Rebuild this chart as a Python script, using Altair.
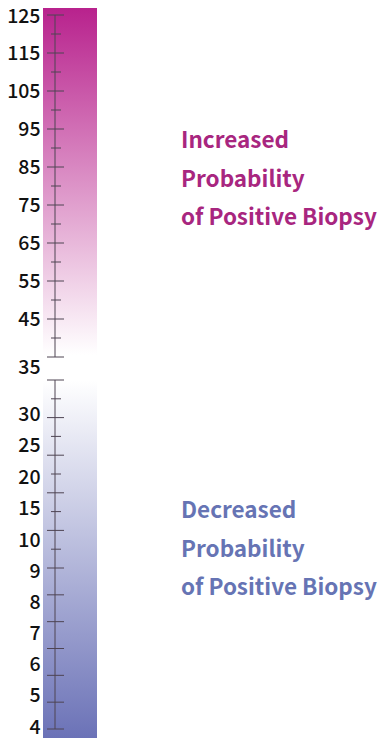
import altair as alt
import pandas as pd

# ---- data ----
label_values = [125, 115, 105, 95, 85, 75, 65, 55, 45, 35, 30, 25, 20, 15, 10, 9, 8, 7, 6, 5, 4]
top_major = [125, 115, 105, 95, 85, 75, 65, 55, 45, 35]
top_minor = [120, 110, 100, 90, 80, 70, 60, 50, 40]
bottom_major = [35, 30, 25, 20, 15, 10, 9, 8, 7, 6, 5, 4]
bottom_minor = [32.5, 27.5, 22.5, 17.5, 12.5]
top_range = [125, 35]
bottom_range = [35, 4]
bar_extent = [127.4, 3.65]
texts_up = ["Increased", "Probability", "of Positive Biopsy"]
texts_down = ["Decreased", "Probability", "of Positive Biopsy"]

FONT = "Noto Sans CJK JP"
TICK = "#4e4452"

main_y = alt.Scale(domain=[127.4, 115, 45, 35, 30, 10, 3.65],
                   range=[0, 45, 311, 359, 406, 532, 730])
top_y = alt.Scale(domain=[125, 35], range=[7, 349])
bot_y = alt.Scale(domain=[35, 10, 4], range=[372, 560, 721])

grad = alt.LinearGradient(
    gradient="linear", x1=0, x2=0, y1=0, y2=1,
    stops=[
        alt.GradientStop(color="#b8228d", offset=0),
        alt.GradientStop(color="#ffffff", offset=0.475),
        alt.GradientStop(color="#ffffff", offset=0.51),
        alt.GradientStop(color="#6b72b7", offset=1),
    ],
)

bar_df = pd.DataFrame({"top": [bar_extent[0]], "bottom": [bar_extent[1]]})

bar = alt.Chart(bar_df).mark_rect(color=grad).encode(
    x=alt.value(1), x2=alt.value(55),
    y=alt.Y("top:Q", scale=main_y,
            axis=alt.Axis(values=label_values, format="d", domain=False, ticks=False,
                          grid=False, labelPadding=2, labelFont=FONT, labelFontSize=19.5,
                          labelColor="#111111", labelFontWeight=500, title=None,
                          labelOverlap=False, labelFlush=False)),
    y2="bottom:Q",
)

def tick_layer(vals, scale, x1, x2):
    return alt.Chart(pd.DataFrame({"v": vals})).mark_rule(color=TICK, strokeWidth=1).encode(
        x=alt.value(x1), x2=alt.value(x2),
        y=alt.Y("v:Q", scale=scale, axis=None),
    )

def line_layer(rng, scale):
    return alt.Chart(pd.DataFrame({"a": [rng[0]], "b": [rng[1]]})).mark_rule(
        color=TICK, strokeWidth=1).encode(
        x=alt.value(13),
        y=alt.Y("a:Q", scale=scale, axis=None), y2="b:Q",
    )

top_layer = alt.layer(
    line_layer(top_range, top_y),
    tick_layer(top_major, top_y, 5, 22),
    tick_layer(top_minor, top_y, 9, 19),
)
bot_layer = alt.layer(
    line_layer(bottom_range, bot_y),
    tick_layer(bottom_major, bot_y, 5, 22),
    tick_layer(bottom_minor, bot_y, 9, 19),
)

def text_layer(lines, color, ybase):
    return alt.Chart(pd.DataFrame({"t": ["\n".join(lines)]})).mark_text(
        align="left", baseline="alphabetic", font=FONT, fontSize=22.5, fontWeight="bold",
        color=color, lineBreak="\n", lineHeight=38.5,
    ).encode(x=alt.value(139), y=alt.value(ybase), text="t:N")

chart = alt.layer(
    bar,
    top_layer,
    bot_layer,
    text_layer(texts_up, "#a8267f", 140),
    text_layer(texts_down, "#6674b4", 510),
).resolve_scale(y="independent").properties(
    width=339, height=737,
    autosize=alt.AutoSizeParams(type="none"),
    padding={"left": 34, "top": 0, "right": 0, "bottom": 0},
).configure_view(stroke=None)

chart.save("out.html", embed_options={"renderer": "svg", "actions": False})
